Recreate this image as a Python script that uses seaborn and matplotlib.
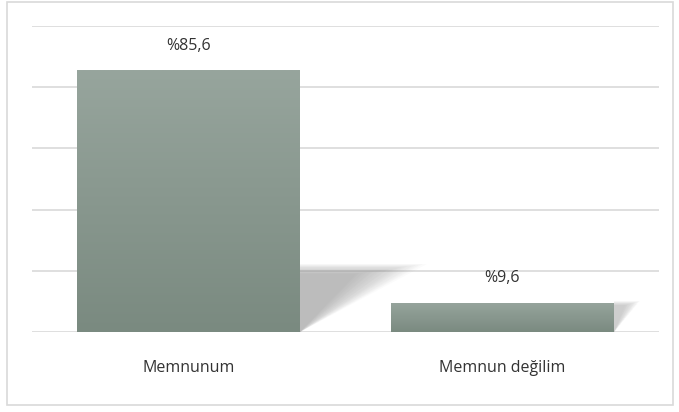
import numpy as np
import pandas as pd
import matplotlib
matplotlib.use("Agg")
import matplotlib.pyplot as plt
import seaborn as sns
from matplotlib.colors import LinearSegmentedColormap
from matplotlib.patches import Rectangle, Polygon

categories = ["Memnunum", "Memnun değilim"]
values = [85.6, 9.6]
value_labels = ["%85,6", "%9,6"]

df = pd.DataFrame({"cat": categories, "val": values})

sns.set_style("white")
plt.rcParams["font.family"] = ["Open Sans", "DejaVu Sans"]

fig = plt.figure(figsize=(6.79, 4.12), dpi=100)
ax = fig.add_axes([32 / 679, 1 - 332 / 412, 627 / 679, 306 / 412])

sns.barplot(data=df, x="cat", y="val", ax=ax, width=0.71, color="#889890",
            saturation=1, zorder=3)
ax.set_ylim(0, 100)
ax.set_xlim(-0.5, 1.5)
ax.set_yticks(np.arange(0, 101, 20))
ax.yaxis.grid(True, color="#d9d9d9", linewidth=1.2, zorder=0)
ax.set_yticklabels([])
ax.tick_params(axis="y", length=0)
ax.tick_params(axis="x", length=0, pad=20, labelsize=11.5, labelcolor="#333333")
ax.set_xlabel("")
ax.set_ylabel("")
for s in ax.spines.values():
    s.set_visible(False)

cmap = LinearSegmentedColormap.from_list("g", ["#7a8a80", "#97a59d"])
grad = np.linspace(0, 1, 256).reshape(-1, 1)
for bar, lab in zip(ax.patches, value_labels):
    x0, w, h = bar.get_x(), bar.get_width(), bar.get_height()
    bar.set_facecolor("none")
    bar.set_edgecolor("none")
    # soft shadow (blurred triangle) to the right of the bar
    sh = min(h, 21)
    r = sh / 21
    sw = 0.3 * r ** 2
    n = 20
    for k in range(n):
        f = 1.35 - k * 0.04
        g = 1.06 - k * 0.008
        poly = Polygon([(x0 + w, 0), (x0 + w, sh * g),
                        (x0 + w + sw * f, sh * g)],
                       closed=True, facecolor="#808080", edgecolor="none",
                       alpha=0.03 * r ** 0.6, zorder=2)
        ax.add_patch(poly)
    im = ax.imshow(grad, cmap=cmap, aspect="auto", origin="lower",
                   extent=[x0, x0 + w, 0, h], zorder=3)
    clip = Rectangle((x0, 0), w, h, transform=ax.transData)
    im.set_clip_path(clip)
    ax.text(x0 + w / 2, h + 8, lab, ha="center", va="center",
            fontsize=11.5, color="#333333", zorder=4)

ax.set_xlim(-0.5, 1.5)
ax.set_ylim(0, 100)

fig.patches.append(Rectangle((7 / 679, 1 - 405 / 412), 666 / 679, 403 / 412,
                             transform=fig.transFigure, fill=False,
                             edgecolor="#d9d9d9", linewidth=1.2))

fig.savefig("out.png", dpi=100)
